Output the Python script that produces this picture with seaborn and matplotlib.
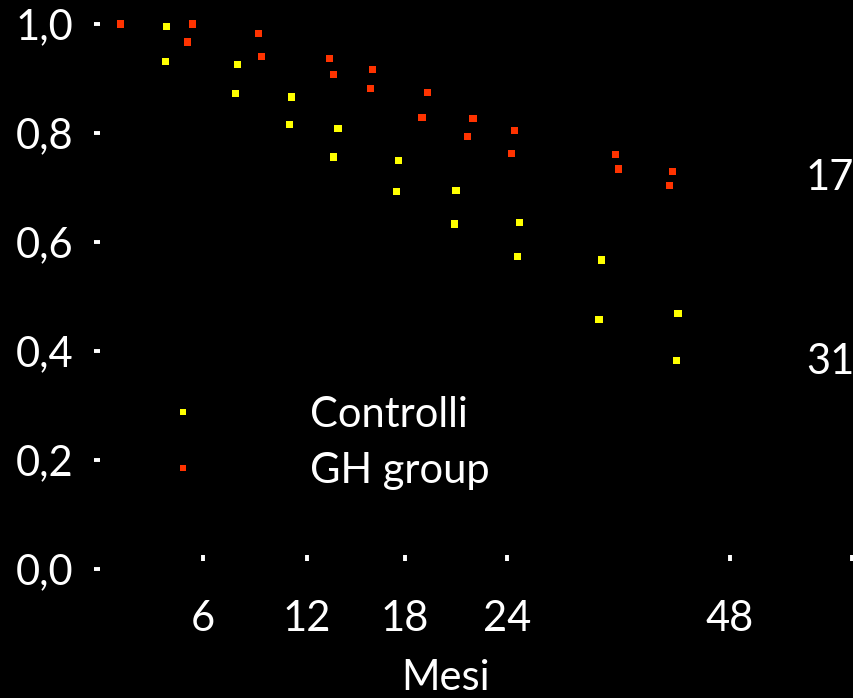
import numpy as np
import pandas as pd
import matplotlib
matplotlib.use("Agg")
import matplotlib.pyplot as plt
import seaborn as sns
from matplotlib.lines import Line2D

# ---- data (months, survival) ----
ctrl_months = [3.9, 3.8, 8.0, 7.9, 11.1, 11.0, 13.9, 13.6, 17.6, 17.5, 21.0, 20.9,
               25.3, 25.1, 34.2, 33.9, 42.4, 42.2]
ctrl_surv = [0.996, 0.932, 0.925, 0.873, 0.866, 0.815, 0.809, 0.756, 0.750, 0.692,
             0.694, 0.633, 0.635, 0.574, 0.567, 0.457, 0.468, 0.383]
gh_months = [1.2, 5.4, 5.1, 9.2, 9.4, 13.4, 13.6, 16.0, 15.9, 19.3, 19.0, 22.0, 21.7,
             24.8, 24.5, 35.7, 36.0, 41.8, 41.5]
gh_surv = [1.0, 1.0, 0.967, 0.983, 0.941, 0.936, 0.908, 0.916, 0.881, 0.875, 0.828,
           0.826, 0.793, 0.804, 0.763, 0.760, 0.734, 0.730, 0.703]
groups = ["Controlli", "GH group"]
colors = {"Controlli": "#FFFF00", "GH group": "#FF3300"}
x_ticks = [6, 12, 18, 24, 48, 60]
x_ticklabels = ["6", "12", "18", "24", "48", ""]
y_ticks = [0.0, 0.2, 0.4, 0.6, 0.8, 1.0]
y_ticklabels = ["0,0", "0,2", "0,4", "0,6", "0,8", "1,0"]
risk_numbers = ["17", "31"]
x_label = "Mesi"

df = pd.DataFrame({
    "Mesi": ctrl_months + gh_months,
    "Sopravvivenza": ctrl_surv + gh_surv,
    "Gruppo": ["Controlli"] * len(ctrl_months) + ["GH group"] * len(gh_months),
})

# piecewise (non-uniform) time axis as in the original slide
knots_m = np.array([0, 6, 12, 18, 24, 48, 60, 70])
knots_p = np.array([0, 103, 207, 305, 407, 630, 752, 850])

def fwd(m):
    return np.interp(m, knots_m, knots_p)

def inv(p):
    return np.interp(p, knots_p, knots_m)

FONT = ["Lato", "DejaVu Sans"]
plt.rcParams["font.family"] = FONT
FS = 30

fig = plt.figure(figsize=(8.54, 6.98), dpi=100, facecolor="black")
ax = fig.add_axes([100 / 854, 0, 754 / 854, 1])
ax.set_facecolor("black")

sns.scatterplot(data=df, x="Mesi", y="Sopravvivenza", hue="Gruppo", palette=colors,
                marker="s", s=26, linewidth=0, legend=False, ax=ax)

ax.set_xscale("function", functions=(fwd, inv))
ax.set_xlim(0, inv(754))
ax.set_ylim(-(698 - 569) / 545, 1 + 24 / 545)

for s in ["top", "right", "bottom", "left"]:
    ax.spines[s].set_visible(False)
ax.spines["bottom"].set_position(("data", 0.02))

ax.set_xticks(x_ticks)
ax.set_xticklabels(x_ticklabels)
ax.set_yticks(y_ticks)
ax.set_yticklabels(y_ticklabels)
ax.tick_params(axis="x", colors="white", labelcolor="white", labelsize=FS,
               direction="inout", length=4.5, width=2.8, pad=28)
ax.tick_params(axis="y", colors="white", labelcolor="white", labelsize=FS,
               direction="out", length=4, width=2.8, pad=15)
ax.set_xlabel(x_label, color="white", fontsize=FS)
ax.xaxis.set_label_coords(346 / 754, 1 - 678 / 698)
ax.xaxis.label.set_va("center")
ax.set_ylabel("")

handles = [Line2D([], [], linestyle="none", marker="s", markersize=4.5,
                  markerfacecolor=colors[g], markeredgewidth=0) for g in groups]
leg = ax.legend(handles, groups, loc="upper left",
                bbox_to_anchor=(166 / 854, 1 - 396 / 698), bbox_transform=fig.transFigure,
                frameon=False, fontsize=FS, handlelength=0.8, handletextpad=2.65,
                labelspacing=0.43, borderpad=0, borderaxespad=0)
for t in leg.get_texts():
    t.set_color("white")

fig.text(806 / 854, 1 - 178 / 698, risk_numbers[0], color="white", fontsize=FS,
         ha="left", va="center")
fig.text(806 / 854, 1 - 362 / 698, risk_numbers[1], color="white", fontsize=FS,
         ha="left", va="center")

fig.savefig("out.png", dpi=100, facecolor="black")
